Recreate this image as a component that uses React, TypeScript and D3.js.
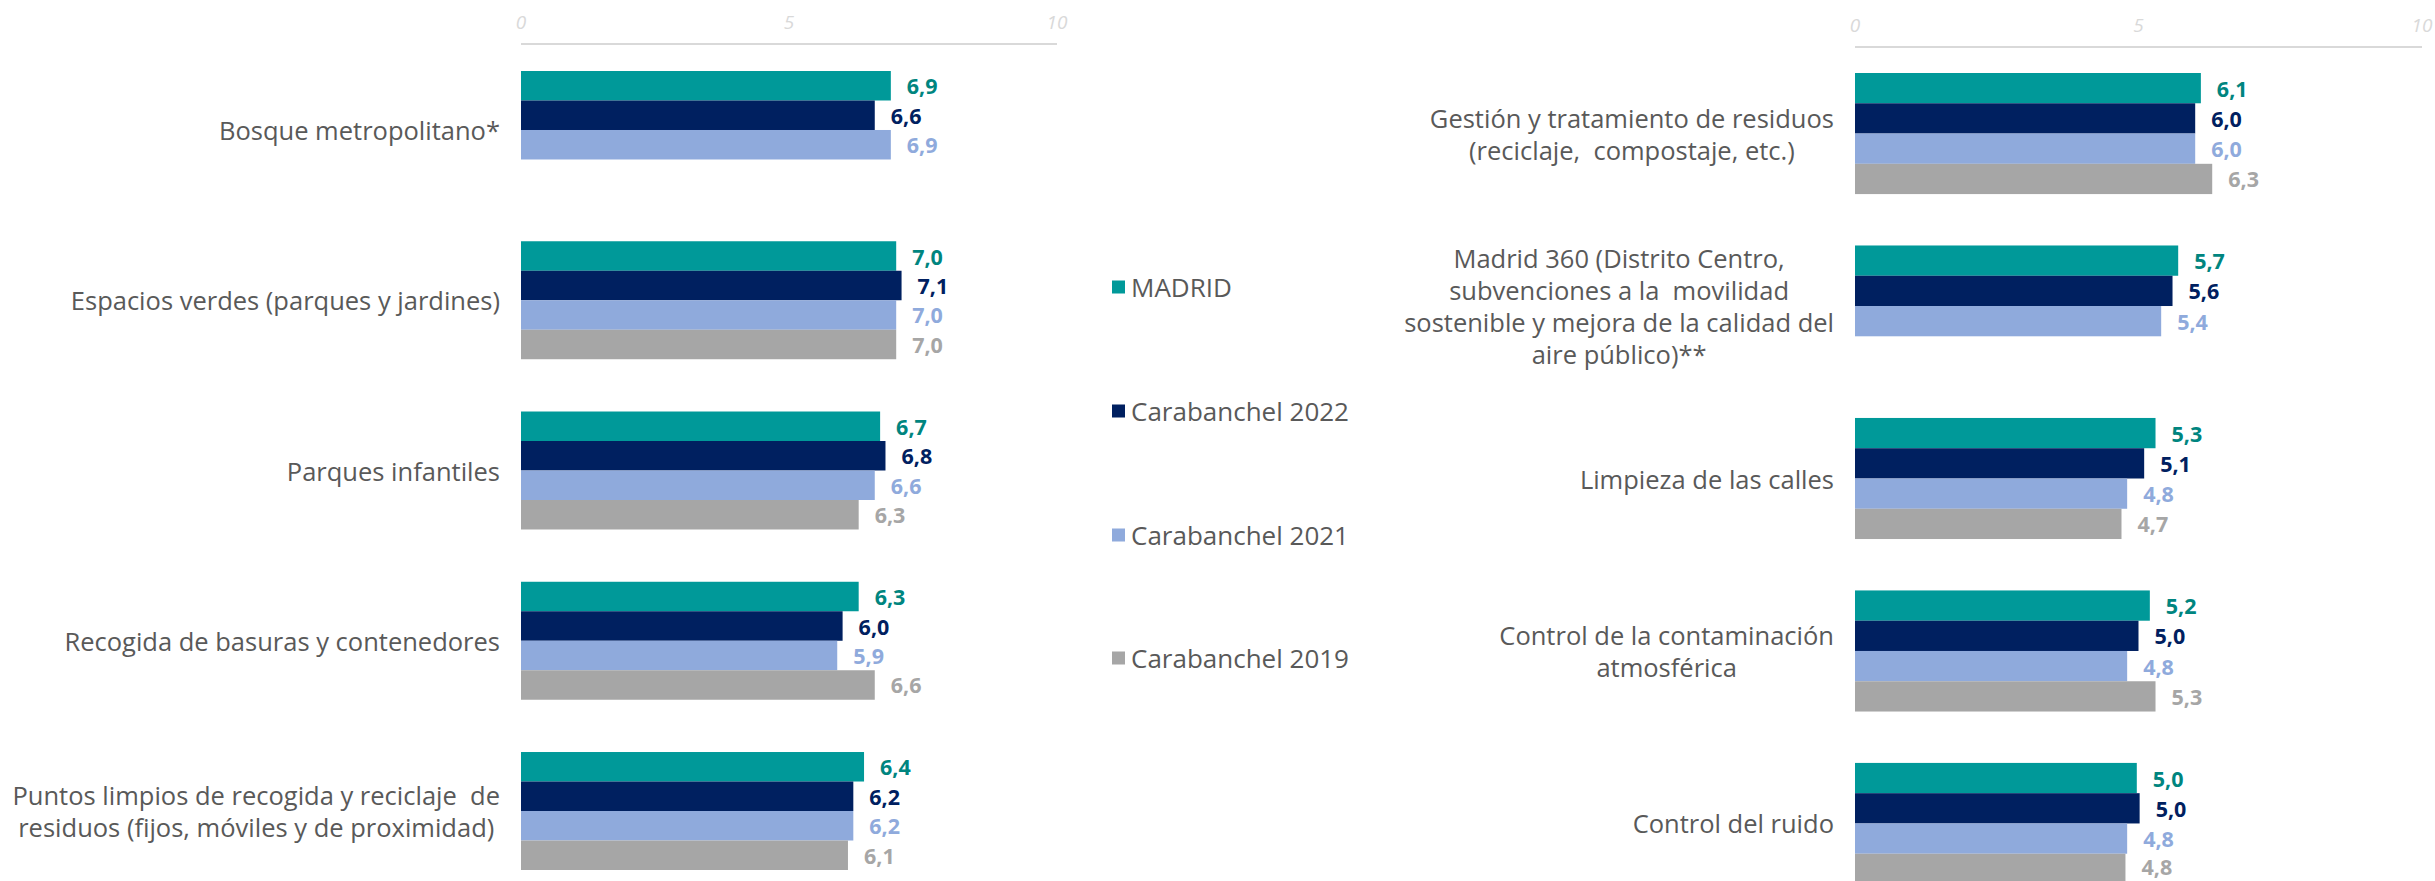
import React, { useEffect, useRef } from 'react';
import * as d3 from 'd3';

const seriesNames = ['MADRID', 'Carabanchel 2022', 'Carabanchel 2021', 'Carabanchel 2019'];
const seriesColors = ['#009999', '#002060', '#8FAADC', '#A6A6A6'];
const valueColors = ['#00857F', '#002060', '#8FAADC', '#A6A6A6'];

const leftCategories: string[][] = [
  ['Bosque metropolitano*'],
  ['Espacios verdes (parques y jardines)'],
  ['Parques infantiles'],
  ['Recogida de basuras y contenedores'],
  ['Puntos limpios de recogida y reciclaje  de', 'residuos (fijos, móviles y de proximidad)'],
];
const leftMadrid = [6.9, 7.0, 6.7, 6.3, 6.4];
const left2022 = [6.6, 7.1, 6.8, 6.0, 6.2];
const left2021 = [6.9, 7.0, 6.6, 5.9, 6.2];
const left2019: (number | null)[] = [null, 7.0, 6.3, 6.6, 6.1];

const rightCategories: string[][] = [
  ['Gestión y tratamiento de residuos', '(reciclaje,  compostaje, etc.)'],
  ['Madrid 360 (Distrito Centro,', 'subvenciones a la  movilidad', 'sostenible y mejora de la calidad del', 'aire público)**'],
  ['Limpieza de las calles'],
  ['Control de la contaminación', 'atmosférica'],
  ['Control del ruido'],
];
const rightMadrid = [6.1, 5.7, 5.3, 5.2, 4.97];
const right2022 = [6.0, 5.6, 5.1, 5.0, 5.02];
const right2021 = [6.0, 5.4, 4.8, 4.8, 4.8];
const right2019: (number | null)[] = [6.3, null, 4.7, 5.3, 4.77];

const axisTicks = [0, 5, 10];

const FONT = "'Open Sans', 'DejaVu Sans', sans-serif";
const TEXT_COLOR = '#595959';

type Panel = {
  cats: string[][];
  series: (number | null)[][];
  x0: number;
  x1: number;
  yTop: number;
  yBottom: number;
  padInner: number;
  axisY: number;
  tickY: number;
  labelRight: number;
};

export default function App() {
  const ref = useRef<SVGSVGElement>(null);

  useEffect(() => {
    const svg = d3.select(ref.current);
    svg.selectAll('*').remove();
    const H = 881;

    const panels: Panel[] = [
      {
        cats: leftCategories,
        series: [leftMadrid, left2022, left2021, left2019],
        x0: 521, x1: 1057, yTop: 71, yBottom: 870, padInner: 0.307,
        axisY: 44, tickY: 22, labelRight: 500,
      },
      {
        cats: rightCategories,
        series: [rightMadrid, right2022, right2021, right2019],
        x0: 1855, x1: 2422, yTop: 73, yBottom: 884, padInner: 0.298,
        axisY: 47, tickY: 25, labelRight: 1834,
      },
    ];

    panels.forEach((p) => {
      const g = svg.append('g');
      const x = d3.scaleLinear().domain([0, 10]).range([p.x0, p.x1]);
      const idx = p.cats.map((_, i) => String(i));
      const y = d3.scaleBand<string>().domain(idx).range([p.yTop, p.yBottom]).paddingInner(p.padInner).paddingOuter(0);
      const ys = d3.scaleBand<string>().domain(seriesNames).range([0, y.bandwidth()]).padding(0);

      g.append('line')
        .attr('x1', x(0)).attr('x2', x(10))
        .attr('y1', p.axisY).attr('y2', p.axisY)
        .attr('stroke', '#D9D9D9').attr('stroke-width', 2);
      g.selectAll('text.tick').data(axisTicks).enter().append('text')
        .attr('x', (d) => x(d)).attr('y', p.tickY)
        .attr('text-anchor', 'middle').attr('dominant-baseline', 'central')
        .attr('font-family', FONT).attr('font-style', 'italic')
        .attr('font-size', 19).attr('fill', '#D9D9D9')
        .text((d) => String(d));

      p.series.forEach((vals, si) => {
        vals.forEach((v, ci) => {
          if (v == null) return;
          const by = (y(String(ci)) as number) + (ys(seriesNames[si]) as number);
          g.append('rect')
            .attr('x', x(0)).attr('y', by)
            .attr('width', x(v) - x(0)).attr('height', ys.bandwidth())
            .attr('fill', seriesColors[si]);
          g.append('text')
            .attr('x', x(v) + 16).attr('y', Math.min(by + ys.bandwidth() / 2, H - 15))
            .attr('dominant-baseline', 'central')
            .attr('font-family', FONT).attr('font-weight', 'bold')
            .attr('font-size', 21.5).attr('fill', valueColors[si])
            .text(v.toFixed(1).replace('.', ','));
        });
      });

      p.cats.forEach((lines, ci) => {
        const cy = (y(String(ci)) as number) + y.bandwidth() / 2;
        const lh = 32;
        const t = g.append('text')
          .attr('font-family', FONT).attr('font-size', 25.5)
          .attr('fill', TEXT_COLOR).style('white-space', 'pre')
          .attr('text-anchor', 'middle');
        const spans = lines.map((ln, li) =>
          t.append('tspan')
            .attr('y', cy + (li - (lines.length - 1) / 2) * lh)
            .attr('dominant-baseline', 'central')
            .text(ln)
        );
        let maxW = 0;
        spans.forEach((s) => {
          const w = (s.node() as SVGTextContentElement).getComputedTextLength();
          if (w > maxW) maxW = w;
        });
        spans.forEach((s) => s.attr('x', p.labelRight - maxW / 2));
      });
    });

    const legendY = [287, 411, 535, 658];
    const lg = svg.append('g');
    seriesNames.forEach((name, i) => {
      lg.append('rect')
        .attr('x', 1112).attr('y', legendY[i] - 6.5)
        .attr('width', 13).attr('height', 13)
        .attr('fill', seriesColors[i]);
      lg.append('text')
        .attr('x', 1131).attr('y', legendY[i])
        .attr('dominant-baseline', 'central')
        .attr('font-family', FONT).attr('font-size', 26)
        .attr('fill', TEXT_COLOR)
        .text(name);
    });
  }, []);

  return (
    <svg
      ref={ref}
      width={2435}
      height={881}
      style={{ position: 'absolute', left: 0, top: 0, background: '#fff' }}
    />
  );
}
